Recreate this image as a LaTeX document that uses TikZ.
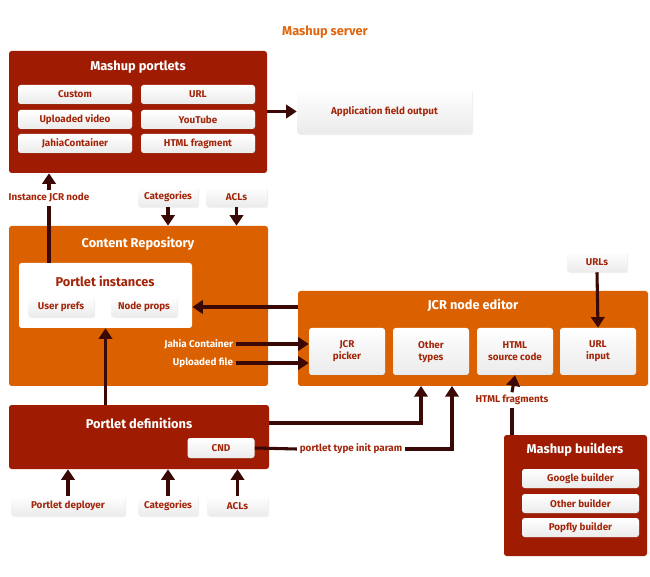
\documentclass[tikz,border=0pt]{standalone}
\usepackage{fontspec}
\setmainfont{Fira Sans}
\usetikzlibrary{arrows.meta,shadows}
\definecolor{portred}{HTML}{9F1C02}
\definecolor{reporange}{HTML}{DB6100}
\definecolor{labred}{HTML}{A3260A}
\definecolor{arrowbrown}{HTML}{3B0905}
\definecolor{servorange}{HTML}{E0650F}

\begin{document}
\begin{tikzpicture}[x=0.75pt,y=-0.75pt,
    size/.style 2 args={minimum width=#1*0.75pt,minimum height=#2*0.75pt,inner sep=0pt},
    panel/.style={fill=portred,rounded corners=2},
    repo/.style={fill=reporange,rounded corners=2},
    item/.style={top color=white,bottom color=gray!16,rounded corners=2,text=labred,
        font=\bfseries\fontsize{7.4}{9}\selectfont,align=center,
        drop shadow={opacity=0.12,shadow xshift=0.8pt,shadow yshift=-0.8pt}},
    title/.style={text=white,font=\bfseries\fontsize{9.6}{11}\selectfont},
    lab/.style={text=labred,font=\bfseries\fontsize{7.4}{9}\selectfont,inner sep=2pt},
    wlab/.style={text=white,font=\bfseries\fontsize{7.4}{9}\selectfont,inner sep=2pt},
    arr/.style={draw=arrowbrown,line width=2.3pt,-{Triangle[length=8pt,width=10pt]}},
    line/.style={draw=arrowbrown,line width=2.3pt}]
\useasboundingbox (0,0) rectangle (650,577);

\node[text=servorange,font=\bfseries\fontsize{9.6}{11}\selectfont] (server) at (325,32) {Mashup server};

% portlets on top
\node[panel,size={258}{122}] (portlets) at (138,112) {};
\node[title] (porttitle) at (138,67) {Mashup portlets};
\node[item,size={114}{19}] (custom) at (75,94.5) {Custom};
\node[item,size={114}{19}] (url) at (198,94.5) {URL};
\node[item,size={114}{19}] (video) at (75,119.5) {Uploaded video};
\node[item,size={114}{19}] (youtube) at (198,119.5) {YouTube};
\node[item,size={114}{19}] (jahia) at (75,143.5) {JahiaContainer};
\node[item,size={114}{19}] (fragment) at (198,143.5) {HTML fragment};
\node[item,size={175}{45}] (appout) at (384.5,111.5) {Application field output};

\node[item,size={60}{20}] (cattop) at (168,197) {Categories};
\node[item,size={61}{20}] (acltop) at (236.5,197) {ACLs};
\node[lab] (instlab) at (49,198) {Instance JCR node};

% content repository
\node[repo,size={259}{160}] (repo) at (138.5,306) {};
\node[title] (repotitle) at (138,244) {Content Repository};
\node[fill=white,rounded corners=2,size={173}{65}] (instances) at (105.5,295.5) {};
\node[text=labred,font=\bfseries\fontsize{9.6}{11}\selectfont] (insttitle) at (105,281) {Portlet instances};
\node[item,size={66}{20}] (userprefs) at (61,307) {User prefs};
\node[item,size={66}{20}] (nodeprops) at (144,307) {Node props};
\node[wlab,anchor=east] (jclab) at (236,344) {Jahia Container};
\node[wlab,anchor=east] (uflab) at (236,363) {Uploaded file};

% node editor
\node[repo,size={350}{95}] (editor) at (473,338.5) {};
\node[title] (edtitle) at (473,305) {JCR node editor};
\node[item,size={76}{47}] (picker) at (347,351.5) {JCR\\picker};
\node[item,size={76}{47}] (other) at (431,351.5) {Other\\types};
\node[item,size={76}{47}] (source) at (515,351.5) {HTML\\source code};
\node[item,size={76}{47}] (urlin) at (598,351.5) {URL\\input};
\node[item,size={60}{20}] (urls) at (597,262) {URLs};

% definitions
\node[panel,size={260}{64}] (defs) at (139,437) {};
\node[title] (deftitle) at (139,423) {Portlet definitions};
\node[item,size={67}{20}] (cnd) at (221,448) {CND};
\node[lab] (initlab) at (351,449) {portlet type init param};
\node[lab] (fraglab) at (512,400) {HTML fragments};
\coordinate (ina) at (421,386);
\coordinate (inb) at (452,386);

\node[item,size={114}{20}] (deployer) at (68,506) {Portlet deployer};
\node[item,size={60}{20}] (catbot) at (168,506) {Categories};
\node[item,size={61}{20}] (aclbot) at (237.5,506) {ACLs};

% builders
\node[panel,size={143}{121}] (builders) at (575.5,495.5) {};
\node[title] (buildtitle) at (575,450) {Mashup builders};
\node[item,size={117}{19}] (google) at (580.5,478.5) {Google builder};
\node[item,size={117}{19}] (otherb) at (580.5,503.5) {Other builder};
\node[item,size={117}{19}] (popfly) at (580.5,527.5) {Popfly builder};

\draw[arr] (portlets.east |- appout.west) -- (appout.west);
\draw[line] (instances.north -| instlab) -- (instlab.south);
\draw[arr] (instlab.north) -- (portlets.south -| instlab);
\draw[arr] (cattop.south) -- (repo.north -| cattop);
\draw[arr] (acltop.south) -- (repo.north -| acltop);
\draw[arr] (editor.west |- nodeprops) -- (instances.east |- nodeprops);
\draw[arr] (jclab.east) -- (picker.west |- jclab.east);
\draw[arr] (uflab.east) -- (picker.west |- uflab.east);
\draw[arr] (urls.south) -- (urlin.north);
\draw[arr] (defs.north -| instances.south) -- (instances.south);
\draw[arr] (deftitle -| defs.east) -| (ina);
\draw[line] (cnd.east) -- (initlab.west);
\draw[arr] (initlab.east) -| (inb);
\draw[line] (builders.north -| fraglab) -- (fraglab.south);
\draw[arr] (fraglab.north) -- (source.south);
\draw[arr] (deployer.north) -- (defs.south -| deployer);
\draw[arr] (catbot.north) -- (defs.south -| catbot);
\draw[arr] (aclbot.north) -- (defs.south -| aclbot);
\end{tikzpicture}
\end{document}
